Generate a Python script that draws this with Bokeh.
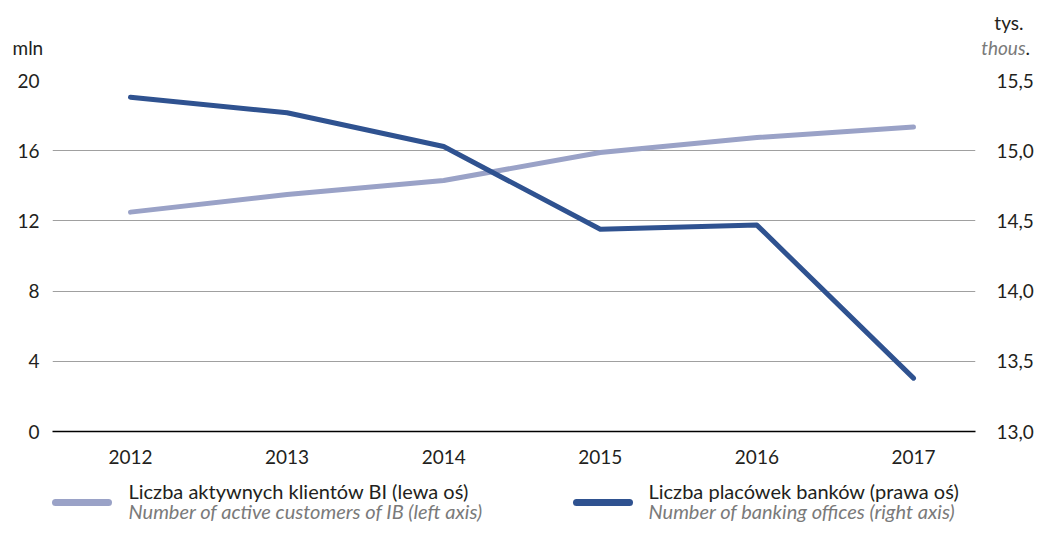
from bokeh.plotting import figure
from bokeh.models import Range1d, LinearAxis, FixedTicker, CustomJSTickFormatter, ColumnDataSource
from bokeh.core.properties import value
from bokeh.embed import file_html
from bokeh.resources import INLINE

years = [2012, 2013, 2014, 2015, 2016, 2017]
ib_customers = [12.5, 13.5, 14.3, 15.9, 16.75, 17.35]      # mln (left axis)
bank_offices = [15.38, 15.27, 15.03, 14.44, 14.47, 13.38]   # thous. (right axis)
left_ticks = [0, 4, 8, 12, 16, 20]
right_ticks = [13.0, 13.5, 14.0, 14.5, 15.0, 15.5]
legend_pl = ["Liczba aktywnych klientów BI (lewa oś)", "Liczba placówek banków (prawa oś)"]
legend_en = ["Number of active customers of IB (left axis)", "Number of banking offices (right axis)"]

LIGHT = "#9aa2c7"
DARK = "#2f5290"
TXT = "#231f20"
GRAYTXT = "#7a7a7a"
GRID = "#a0a0a0"
FONT = "Lato"
TICK_FS = "19px"

W = 1037
H0 = 60          # units strip
H1 = 415         # main chart
H2 = 50          # legend strip


def bare(fig):
    fig.axis.visible = False
    fig.grid.visible = False
    fig.outline_line_color = None
    fig.border_fill_color = "white"
    fig.background_fill_color = "white"
    return fig


# ---- units strip (top) ----
top = bare(figure(width=W, height=H0, output_backend="svg", toolbar_location=None,
                  x_range=Range1d(0, W), y_range=Range1d(H0, 0),
                  min_border=0, min_border_left=0, min_border_right=0,
                  min_border_top=0, min_border_bottom=0))
top.text(x=[12], y=[47], text=["mln"], text_font=value(FONT), text_font_size=TICK_FS,
         text_color=TXT, text_baseline="middle", text_align="left")
top.text(x=[1023], y=[22], text=["tys."], text_font=value(FONT), text_font_size=TICK_FS,
         text_color=TXT, text_baseline="middle", text_align="right")
top.text(x=[1025], y=[47], text=["thous"], text_font=value(FONT), text_font_size=TICK_FS,
         text_font_style="italic", text_color=GRAYTXT, text_baseline="middle", text_align="right")
top.text(x=[1025], y=[47], text=["."], text_font=value(FONT), text_font_size=TICK_FS,
         text_color=TXT, text_baseline="middle", text_align="left")

# ---- main chart ----
FL, FR, FT, FB = 52, 975, 80, 431
p = figure(width=W, height=H1, output_backend="svg", toolbar_location=None,
           x_range=Range1d(2011.502, 2017.396), y_range=Range1d(0, 20),
           min_border_left=FL, min_border_right=W - FR, min_border_top=FT - H0,
           min_border_bottom=H0 + H1 - FB)
p.frame_width = FR - FL
p.frame_height = FB - FT
p.outline_line_color = None
p.background_fill_color = "white"
p.border_fill_color = "white"
p.extra_y_ranges = {"r": Range1d(13.0, 15.5)}

p.xgrid.visible = False
p.ygrid.ticker = FixedTicker(ticks=left_ticks[1:])
p.ygrid.grid_line_color = GRID
p.ygrid.grid_line_width = 1

p.xaxis.ticker = FixedTicker(ticks=years)
p.xaxis.axis_line_color = "black"
p.xaxis.axis_line_width = 1.5
p.xaxis.major_tick_line_color = None
p.xaxis.minor_tick_line_color = None
p.xaxis.major_label_standoff = 12
p.xaxis.major_label_text_font = FONT
p.xaxis.major_label_text_font_size = TICK_FS
p.xaxis.major_label_text_color = TXT

p.yaxis.ticker = FixedTicker(ticks=left_ticks)
p.yaxis.axis_line_color = None
p.yaxis.major_tick_line_color = None
p.yaxis.minor_tick_line_color = None
p.yaxis.major_label_standoff = 7
p.yaxis.major_label_text_font = FONT
p.yaxis.major_label_text_font_size = TICK_FS
p.yaxis.major_label_text_color = TXT

ra = LinearAxis(y_range_name="r", ticker=FixedTicker(ticks=right_ticks),
                formatter=CustomJSTickFormatter(code="return tick.toFixed(1).replace('.', ',');"))
ra.axis_line_color = None
ra.major_tick_line_color = None
ra.minor_tick_line_color = None
ra.major_label_standoff = 15
ra.major_label_text_font = FONT
ra.major_label_text_font_size = TICK_FS
ra.major_label_text_color = TXT
p.add_layout(ra, "right")

src = ColumnDataSource(dict(x=years, a=ib_customers, b=bank_offices))
p.line("x", "a", source=src, line_color=LIGHT, line_width=5, line_cap="round", line_join="round")
p.line("x", "b", source=src, y_range_name="r", line_color=DARK, line_width=5,
       line_cap="round", line_join="round")

# ---- legend strip (bottom) ----
Y0 = H0 + H1
lg = bare(figure(width=W, height=H2, output_backend="svg", toolbar_location=None,
                 x_range=Range1d(0, W), y_range=Range1d(Y0 + H2, Y0),
                 min_border=0, min_border_left=0, min_border_right=0,
                 min_border_top=0, min_border_bottom=0))
lg.segment(x0=[55, 576], y0=[502, 502], x1=[108, 629], y1=[502, 502],
           line_color=[LIGHT, DARK], line_width=7, line_cap="round")
lg.text(x=[128, 648], y=[490, 490], text=legend_pl, text_font=value(FONT), text_font_size="20px",
        text_color=TXT, text_baseline="middle", text_align="left")
lg.text(x=[128, 648], y=[510, 510], text=legend_en, text_font=value(FONT), text_font_size="20px",
        text_font_style="italic", text_color=GRAYTXT, text_baseline="middle", text_align="left")

open("out.html", "w").write(file_html([top, p, lg], INLINE))
